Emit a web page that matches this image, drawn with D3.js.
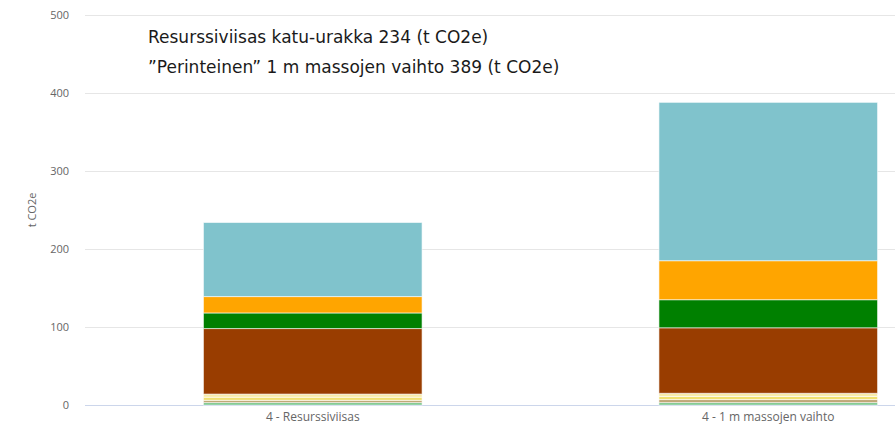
<!DOCTYPE html>
<html>
<head>
<meta charset="utf-8">
<script src="https://cdnjs.cloudflare.com/ajax/libs/d3/7.8.5/d3.min.js"></script>
<style>
  body { margin: 0; background: #fff; }
  svg { display: block; }
</style>
</head>
<body>
<div id="chart"></div>
<script>
var categories = ["4 - Resurssiviisas", "4 - 1 m massojen vaihto"]
// stack order, bottom to top
var seriesNames = ["vihrea", "ruskea_vaalea", "keltainen", "vaaleankeltainen", "ruskea", "vihreä", "oranssi", "turkoosi"]
var seriesColors = ["#6cc080", "#c0a878", "#f0e070", "#f8eca8", "#993d00", "#008000", "#ffa500", "#80c3cc"]
var valuesResurssiviisas = [3, 3, 4, 4, 84, 20, 21, 95]
var valuesMassanvaihto = [3, 4, 4, 4, 84, 36, 50, 203]
var yTicks = [0, 100, 200, 300, 400, 500]
var titleLines = ["Resurssiviisas katu-urakka 234 (t CO2e)", "\u201dPerinteinen\u201d 1 m massojen vaihto 389 (t CO2e)"]

var width = 895, height = 425
var svg = d3.select("#chart").append("svg")
    .attr("width", width)
    .attr("height", height)

var rows = categories.map(function(c, i){
    var r = {category: c}
    seriesNames.forEach(function(s, j){
        r[s] = i == 0 ? valuesResurssiviisas[j] : valuesMassanvaihto[j]
    })
    return r
})

var x = d3.scaleBand()
    .domain(categories)
    .range([85, 996])
    .paddingInner(0.52)
    .paddingOuter(0.26)

var y = d3.scaleLinear()
    .domain([0, 500])
    .range([405, 15])

// gridlines
svg.append("g").selectAll("line")
    .data(yTicks)
    .join("line")
    .attr("x1", 85)
    .attr("x2", width)
    .attr("y1", function(d){ return Math.round(y(d)) + 0.5 })
    .attr("y2", function(d){ return Math.round(y(d)) + 0.5 })
    .attr("stroke", function(d){ return d == 0 ? "#ccd6eb" : "#e6e6e6" })
    .attr("stroke-width", 1)

// y tick labels
svg.append("g").selectAll("text")
    .data(yTicks)
    .join("text")
    .attr("x", 69)
    .attr("y", function(d){ return y(d) + 4 })
    .attr("text-anchor", "end")
    .attr("fill", "#666")
    .style("font-family", "'Open Sans', sans-serif")
    .style("font-size", "11px")
    .text(function(d){ return d })

svg.append("text")
    .attr("transform", "translate(36,210) rotate(-90)")
    .attr("text-anchor", "middle")
    .attr("fill", "#666")
    .style("font-family", "'Open Sans', sans-serif")
    .style("font-size", "11px")
    .text("t CO2e")

// stacked bars
var stack = d3.stack().keys(seriesNames)
var layers = stack(rows)

svg.append("g").selectAll("g")
    .data(layers)
    .join("g")
    .attr("fill", function(d, i){ return seriesColors[i] })
    .selectAll("rect")
    .data(function(d){ return d })
    .join("rect")
    .attr("x", function(d){ return x(d.data.category) })
    .attr("width", x.bandwidth())
    .attr("y", function(d){ return y(d[1]) })
    .attr("height", function(d){ return y(d[0]) - y(d[1]) })
    .attr("stroke", "#ffffff")
    .attr("stroke-opacity", 0.6)
    .attr("stroke-width", 1)

// category labels
svg.append("g").selectAll("text")
    .data(categories)
    .join("text")
    .attr("x", function(d){ return x(d) + x.bandwidth() / 2 })
    .attr("y", 421)
    .attr("text-anchor", "middle")
    .attr("fill", "#666")
    .style("font-family", "'Open Sans', sans-serif")
    .style("font-size", "12px")
    .text(function(d){ return d })

// title box text
svg.append("g").selectAll("text")
    .data(titleLines)
    .join("text")
    .attr("x", 148)
    .attr("y", function(d, i){ return 43 + i * 30 })
    .attr("fill", "#1a1a1a")
    .style("font-family", "'DejaVu Sans', Verdana, sans-serif")
    .style("font-size", "17px")
    .text(function(d){ return d })
</script>
</body>
</html>
